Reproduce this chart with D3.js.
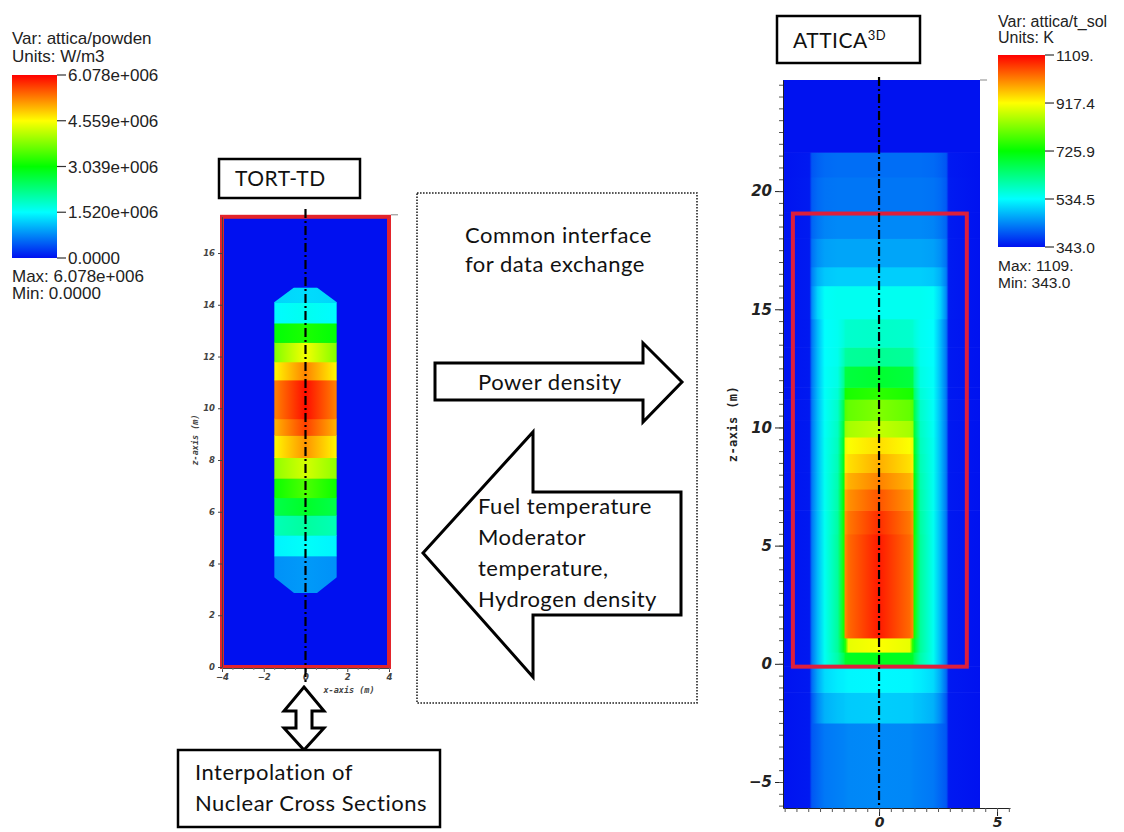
<!DOCTYPE html>
<html>
<head>
<meta charset="utf-8">
<script src="https://cdn.jsdelivr.net/npm/d3@7"></script>
<style>
  body { margin: 0; background: #fff; }
  svg { display: block; }
  .lbl { font-family: Lato, "Open Sans", sans-serif; fill: #111; letter-spacing: 0.5px; }
  .cb { font-family: "Liberation Sans", Arial, sans-serif; fill: #222; }
</style>
</head>
<body>
<script>
// colour bar ticks
const powTickValues = [6.078e6, 4.559e6, 3.039e6, 1.520e6, 0];
const powTickLabels = ["6.078e+006", "4.559e+006", "3.039e+006", "1.520e+006", "0.0000"];
const tempTickValues = [1109, 917.4, 725.9, 534.5, 343.0];
const tempTickLabels = ["1109.", "917.4", "725.9", "534.5", "343.0"];

// TORT-TD power density: axial bands [z0, z1] (m), value at centre / at core edge (W/m3)
const tortBands = [[2.86, 4.3], [4.3, 5.1], [5.1, 5.87], [5.87, 6.55], [6.55, 7.3], [7.3, 8.1],
  [8.1, 8.96], [8.96, 9.6], [9.6, 11.1], [11.1, 11.8], [11.8, 12.55], [12.55, 13.3], [13.3, 14.1], [14.1, 14.67]];
const tortCentre = [0.88e6, 1.55e6, 2.1e6, 2.8e6, 3.5e6, 4.3e6, 5.2e6, 5.7e6, 6.0e6, 5.3e6, 4.5e6, 3.2e6, 1.6e6, 1.3e6];
const tortEdge = [0.82e6, 1.45e6, 1.95e6, 2.6e6, 3.1e6, 3.9e6, 4.6e6, 5.0e6, 5.3e6, 4.6e6, 3.8e6, 3.0e6, 1.5e6, 1.25e6];
// core outline (x, z) in m
const tortCore = [[-0.55, 2.86], [0.55, 2.86], [1.5, 3.47], [1.5, 14.1], [0.55, 14.67], [-0.55, 14.67], [-1.5, 14.1], [-1.5, 3.47]];

// ATTICA3D solid temperature: radial nodes (m) and temperature per axial band (K)
const atticaRadii = [0, 1.3, 1.42, 1.5, 1.75, 2.3, 2.6, 2.85, 2.95, 4.3];
const atticaBands = [[-6.1, -2.5], [-2.5, -1.2], [-1.2, -0.1], [-0.1, 0.5], [0.5, 1.1], [1.1, 5.5],
  [5.5, 6.5], [6.5, 7.4], [7.4, 8.1], [8.1, 8.9], [8.9, 9.6], [9.6, 10.3], [10.3, 11.2], [11.2, 11.7],
  [11.7, 12.6], [12.6, 13.4], [13.4, 14.6], [14.6, 16.0], [16.0, 16.8], [16.8, 18.0], [18.0, 19.1],
  [19.1, 20.6], [20.6, 21.65], [21.65, 24.7]];
const atticaTemps = [
  [440, 438, 436, 434, 432, 426, 412, 400, 350, 345],
  [495, 493, 491, 488, 485, 472, 440, 400, 350, 345],
  [530, 528, 526, 523, 520, 505, 465, 415, 350, 345],
  [705, 700, 695, 660, 600, 545, 480, 425, 350, 345],
  [915, 900, 760, 700, 610, 545, 480, 425, 350, 345],
  [1090, 1030, 1010, 740, 610, 545, 480, 425, 350, 345],
  [1075, 1020, 1000, 735, 605, 545, 480, 425, 350, 345],
  [1045, 1000, 985, 725, 600, 545, 480, 425, 350, 345],
  [1012, 975, 960, 715, 595, 545, 480, 425, 350, 345],
  [978, 940, 930, 705, 590, 545, 480, 425, 350, 345],
  [942, 915, 905, 695, 585, 545, 480, 425, 350, 345],
  [872, 850, 840, 680, 580, 542, 480, 425, 350, 345],
  [822, 800, 790, 665, 575, 540, 480, 425, 350, 345],
  [760, 745, 740, 640, 565, 540, 480, 425, 350, 345],
  [690, 680, 676, 615, 555, 538, 480, 425, 350, 345],
  [615, 610, 606, 585, 548, 536, 480, 425, 350, 345],
  [575, 572, 570, 560, 545, 535, 480, 425, 350, 345],
  [545, 545, 545, 545, 545, 540, 500, 440, 352, 345],
  [495, 495, 495, 495, 495, 490, 470, 430, 352, 345],
  [462, 462, 462, 462, 462, 458, 445, 420, 352, 345],
  [440, 440, 440, 440, 440, 436, 425, 410, 352, 345],
  [425, 425, 425, 425, 425, 422, 415, 402, 352, 345],
  [418, 418, 418, 418, 418, 415, 408, 398, 350, 345],
  [345, 345, 345, 345, 345, 345, 345, 345, 345, 345]
];
const atticaBox = [[-3.65, -0.12], [3.72, 19.05]];

const fluidLines = ["Fuel temperature", "Moderator", "temperature,", "Hydrogen density"];

const W = 1124, H = 832;
const rainbow = ["#0010f0", "#00ffff", "#00ff00", "#ffff00", "#ff0000"];

const svg = d3.select("body").append("svg").attr("width", W).attr("height", H);
svg.append("rect").attr("width", W).attr("height", H).attr("fill", "#fff");
const defs = svg.append("defs");

function colorScale(lo, hi) {
  return d3.scaleLinear().domain(d3.range(5).map(i => lo + (hi - lo) * i / 4)).range(rainbow).clamp(true);
}
const powColor = colorScale(0, 6.078e6);
const tempColor = colorScale(343.0, 1109);

// ---------- colour bars ----------
function colorbar(o) {
  const g = svg.append("g");
  const gid = "cbg" + o.id;
  const lg = defs.append("linearGradient").attr("id", gid).attr("x1", 0).attr("y1", 1).attr("x2", 0).attr("y2", 0);
  rainbow.forEach((c, i) => lg.append("stop").attr("offset", i / 4).attr("stop-color", c));
  const y = d3.scaleLinear().domain([o.values[o.values.length - 1], o.values[0]]).range([o.bottom, o.top]);
  g.append("rect").attr("x", o.x).attr("y", o.top).attr("width", o.w).attr("height", o.bottom - o.top)
    .attr("fill", `url(#${gid})`);
  o.values.forEach((v, i) => {
    g.append("line").attr("x1", o.x + o.w).attr("x2", o.x + o.w + 9).attr("y1", y(v)).attr("y2", y(v))
      .attr("stroke", "#333").attr("stroke-width", 1.2);
    g.append("text").attr("class", "cb").attr("x", o.x + o.w + 11).attr("y", y(v)).attr("dy", "0.36em")
      .style("font-size", o.fs + "px").text(o.labels[i]);
  });
  o.head.forEach((t, i) => g.append("text").attr("class", "cb").attr("x", o.x).attr("y", o.headY[i])
    .style("font-size", o.hfs + "px").text(t));
  o.foot.forEach((t, i) => g.append("text").attr("class", "cb").attr("x", o.x).attr("y", o.footY[i])
    .style("font-size", o.fs + "px").text(t));
}
colorbar({ id: "p", x: 12, w: 45, top: 75, bottom: 258, values: powTickValues, labels: powTickLabels, fs: 17, hfs: 17,
  head: ["Var: attica/powden", "Units: W/m3"], headY: [44, 62],
  foot: ["Max: 6.078e+006", "Min: 0.0000"], footY: [282, 299] });
colorbar({ id: "t", x: 998, w: 47, top: 55, bottom: 247, values: tempTickValues, labels: tempTickLabels, fs: 15.5, hfs: 16,
  head: ["Var: attica/t_sol", "Units: K"], headY: [27, 43],
  foot: ["Max:  1109.", "Min:  343.0"], footY: [271, 288] });

// ---------- TORT-TD plot ----------
const xT = d3.scaleLinear().domain([-4, 4]).range([222, 389]);
const yT = d3.scaleLinear().domain([0, 17.4]).range([667, 216.8]);
const gT = svg.append("g");
gT.append("rect").attr("x", xT(-4)).attr("y", yT(17.4)).attr("width", xT(4) - xT(-4)).attr("height", yT(0) - yT(17.4))
  .attr("fill", powColor(0));
defs.append("clipPath").attr("id", "tortCore").append("polygon")
  .attr("points", tortCore.map(p => [xT(p[0]), yT(p[1])].join(",")).join(" "));
const coreG = gT.append("g").attr("clip-path", "url(#tortCore)");
tortBands.forEach((b, i) => {
  const lg = defs.append("linearGradient").attr("id", "tg" + i).attr("gradientUnits", "userSpaceOnUse")
    .attr("x1", xT(-1.5)).attr("x2", xT(1.5)).attr("y1", 0).attr("y2", 0);
  [[0, tortEdge[i]], [0.5, tortCentre[i]], [1, tortEdge[i]]].forEach(s =>
    lg.append("stop").attr("offset", s[0]).attr("stop-color", powColor(s[1])));
  coreG.append("rect").attr("x", xT(-1.5)).attr("width", xT(1.5) - xT(-1.5))
    .attr("y", yT(b[1])).attr("height", yT(b[0]) - yT(b[1]) + 0.6).attr("fill", `url(#tg${i})`);
});
gT.append("rect").attr("x", xT(-4)).attr("y", yT(17.4)).attr("width", xT(4) - xT(-4)).attr("height", yT(0) - yT(17.4))
  .attr("fill", "none").attr("stroke", "#e3242b").attr("stroke-width", 4);

function styleAxis(sel, size, fam, col) {
  sel.selectAll("text").style("font-family", fam).style("font-size", size + "px")
    .style("font-style", "italic").style("font-weight", "bold").attr("fill", col);
  sel.selectAll("line").attr("stroke", col);
  sel.select(".domain").attr("stroke", col);
}
const tAxY = gT.append("g").attr("transform", `translate(${xT(-4)},0)`)
  .call(d3.axisLeft(yT).tickValues(d3.range(0, 17, 2)).tickSize(4).tickSizeOuter(0).tickPadding(3));
styleAxis(tAxY, 8.5, "DejaVu Sans", "#444");
const tAxX = gT.append("g").attr("transform", `translate(0,${yT(0) + 1})`)
  .call(d3.axisBottom(xT).tickValues(d3.range(-4, 5, 2)).tickSize(4).tickSizeOuter(0).tickPadding(2));
styleAxis(tAxX, 8.5, "DejaVu Sans", "#444");
gT.append("g").attr("transform", `translate(0,${yT(0) + 1})`)
  .call(d3.axisBottom(xT).tickValues(d3.range(-4, 4.01, 0.5)).tickSize(2).tickFormat(""))
  .call(s => { s.select(".domain").remove(); s.selectAll("line").attr("stroke", "#777"); });
gT.append("line").attr("x1", xT(4) + 2).attr("x2", xT(4) + 9).attr("y1", yT(17.4) - 2).attr("y2", yT(17.4) - 2)
  .attr("stroke", "#888");
gT.append("text").attr("x", 349).attr("y", 693).attr("text-anchor", "middle")
  .style("font-family", "DejaVu Sans Mono").style("font-size", "8.5px").style("font-style", "italic")
  .style("font-weight", "bold").attr("fill", "#444").text("x-axis (m)");
gT.append("text").attr("transform", "translate(198,440) rotate(-90)").attr("text-anchor", "middle")
  .style("font-family", "DejaVu Sans Mono").style("font-size", "8.5px").style("font-weight", "bold")
  .style("font-style", "italic").attr("fill", "#444").text("z-axis (m)");
gT.append("line").attr("x1", xT(0)).attr("x2", xT(0)).attr("y1", 209).attr("y2", 682)
  .attr("stroke", "#000").attr("stroke-width", 2.2).attr("stroke-dasharray", "9,3,2,3");

// ---------- ATTICA3D plot ----------
const xA = d3.scaleLinear().domain([-4.07, 5.55]).range([783, 1010]);
const yA = d3.scaleLinear().domain([-6.1, 24.7]).range([808, 80]);
const gA = svg.append("g");
defs.append("clipPath").attr("id", "attClip").append("rect")
  .attr("x", xA(-4.07)).attr("y", yA(24.7)).attr("width", xA(4.28) - xA(-4.07)).attr("height", yA(-6.1) - yA(24.7));
const fieldG = gA.append("g").attr("clip-path", "url(#attClip)");
const nodeX = [...atticaRadii.slice(1).reverse().map(r => -r), ...atticaRadii];
atticaBands.forEach((b, i) => {
  const t = atticaTemps[i];
  const nodeT = [...t.slice(1).reverse(), ...t];
  const lg = defs.append("linearGradient").attr("id", "ag" + i).attr("gradientUnits", "userSpaceOnUse")
    .attr("x1", xA(-4.3)).attr("x2", xA(4.3)).attr("y1", 0).attr("y2", 0);
  nodeX.forEach((x, k) => lg.append("stop").attr("offset", (x + 4.3) / 8.6).attr("stop-color", tempColor(nodeT[k])));
  fieldG.append("rect").attr("x", xA(-4.3)).attr("width", xA(4.3) - xA(-4.3))
    .attr("y", yA(b[1])).attr("height", yA(b[0]) - yA(b[1]) + 0.6).attr("fill", `url(#ag${i})`);
});
gA.append("rect").attr("x", xA(atticaBox[0][0])).attr("y", yA(atticaBox[1][1]))
  .attr("width", xA(atticaBox[1][0]) - xA(atticaBox[0][0])).attr("height", yA(atticaBox[0][1]) - yA(atticaBox[1][1]))
  .attr("fill", "none").attr("stroke", "#dc1f3c").attr("stroke-width", 4);

const aAxY = gA.append("g").attr("transform", `translate(${xA(-4.07)},0)`)
  .call(d3.axisLeft(yA).tickValues([-5, 0, 5, 10, 15, 20]).tickSize(8).tickSizeOuter(0).tickPadding(3));
styleAxis(aAxY, 15, "DejaVu Sans", "#222");
gA.append("g").attr("transform", `translate(${xA(-4.07)},0)`)
  .call(d3.axisLeft(yA).tickValues(d3.range(-6, 24.6, 0.5)).tickSize(4).tickFormat(""))
  .call(s => { s.select(".domain").remove(); s.selectAll("line").attr("stroke", "#555"); });
const aAxX = gA.append("g").attr("transform", `translate(0,${yA(-6.1)})`)
  .call(d3.axisBottom(xA).tickValues([0, 5]).tickSize(8).tickSizeOuter(0).tickPadding(1));
styleAxis(aAxX, 14, "DejaVu Sans", "#222");
gA.append("g").attr("transform", `translate(0,${yA(-6.1)})`)
  .call(d3.axisBottom(xA).tickValues(d3.range(-4, 5.6, 0.5)).tickSize(4).tickFormat(""))
  .call(s => { s.select(".domain").remove(); s.selectAll("line").attr("stroke", "#555"); });
gA.append("line").attr("x1", xA(4.28)).attr("x2", xA(4.28) + 7).attr("y1", yA(24.7)).attr("y2", yA(24.7))
  .attr("stroke", "#888");
gA.append("text").attr("transform", "translate(737,424) rotate(-90)").attr("text-anchor", "middle")
  .style("font-family", "DejaVu Sans Mono").style("font-size", "12px").style("font-weight", "bold")
  .style("letter-spacing", "0.4px").attr("fill", "#222").text("z-axis (m)");
gA.append("line").attr("x1", xA(0)).attr("x2", xA(0)).attr("y1", 77).attr("y2", 808)
  .attr("stroke", "#000").attr("stroke-width", 2.2).attr("stroke-dasharray", "9,3,2,3");

// ---------- labels & boxes ----------
function box(x, y, w, h) {
  svg.append("rect").attr("x", x).attr("y", y).attr("width", w).attr("height", h)
    .attr("fill", "#fff").attr("stroke", "#000").attr("stroke-width", 2.5);
}
box(219, 159, 141, 39);
svg.append("text").attr("class", "lbl").attr("x", 235).attr("y", 186).style("font-size", "21px").text("TORT-TD");
box(777, 16, 143, 47);
const at = svg.append("text").attr("class", "lbl").attr("x", 793).attr("y", 48).style("font-size", "21px");
at.append("tspan").text("ATTICA");
at.append("tspan").attr("dy", -8).style("font-size", "13px").text("3D");

svg.append("rect").attr("x", 417).attr("y", 193).attr("width", 280).attr("height", 510)
  .attr("fill", "none").attr("stroke", "#222").attr("stroke-width", 1.6).attr("stroke-dasharray", "1.6,1.4");
svg.append("text").attr("class", "lbl").attr("x", 465).attr("y", 243).style("font-size", "22px").text("Common interface");
svg.append("text").attr("class", "lbl").attr("x", 465).attr("y", 272).style("font-size", "22px").text("for data exchange");

// right arrow
svg.append("path").attr("d", "M435,363 L643,363 L643,343 L682,382 L643,422 L643,400 L435,400 Z")
  .attr("fill", "#fff").attr("stroke", "#000").attr("stroke-width", 3).attr("stroke-linejoin", "miter");
svg.append("text").attr("class", "lbl").attr("x", 478).attr("y", 390).style("font-size", "22px").text("Power density");

// left arrow
svg.append("path").attr("d", "M423,553 L533,432 L533,492 L681,492 L681,615 L533,615 L533,677 Z")
  .attr("fill", "#fff").attr("stroke", "#000").attr("stroke-width", 3).attr("stroke-linejoin", "miter");
fluidLines.forEach((t, i) => svg.append("text").attr("class", "lbl").attr("x", 478).attr("y", 514 + i * 31)
  .style("font-size", "22px").text(t));

// double arrow
svg.append("path").attr("d", "M304,687 L324,711 L312,711 L312,728 L324,728 L304,750 L284,728 L296,728 L296,711 L284,711 Z")
  .attr("fill", "#fff").attr("stroke", "#000").attr("stroke-width", 3);
box(178, 750, 262, 77);
svg.append("text").attr("class", "lbl").attr("x", 195).attr("y", 780).style("font-size", "22px").text("Interpolation of");
svg.append("text").attr("class", "lbl").attr("x", 195).attr("y", 811).style("font-size", "22px").text("Nuclear Cross Sections");
</script>
</body>
</html>
